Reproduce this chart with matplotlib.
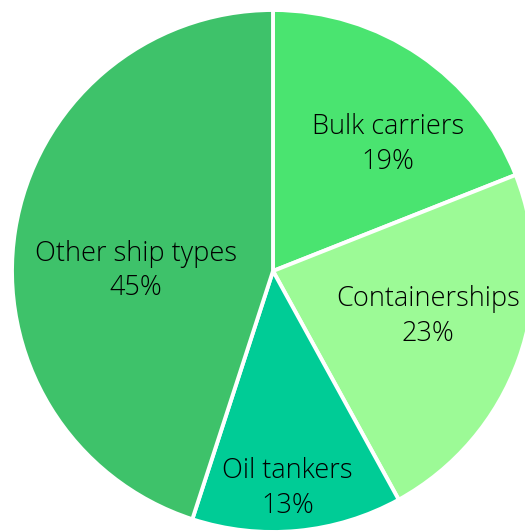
import matplotlib
matplotlib.use('Agg')
import matplotlib.pyplot as plt
import numpy as np

labels = ['Bulk carriers', 'Containerships', 'Oil tankers', 'Other ship types']
shares = [19, 23, 13, 45]
colors = ['#4ae470', '#9cfa96', '#00cc96', '#3ec26a']

# label centres in axes data units (pie radius = 1)
label_pos = [(0.44, 0.485), (0.595, -0.175), (0.055, -0.835), (-0.525, 0.0)]

R = 261.0
W, H = 525, 531
cx, cy = 273, 271

fig = plt.figure(figsize=(W / 100, H / 100), dpi=100)
ax = fig.add_axes([0, 0, 1, 1])
ax.pie(shares, colors=colors, startangle=90, counterclock=False,
       radius=1.0, wedgeprops=dict(edgecolor='white', linewidth=2.8))
ax.set_xlim(-cx / R, (W - cx) / R)
ax.set_ylim(-(H - cy) / R, cy / R)
ax.set_aspect('auto')
ax.axis('off')

for name, val, (x, y) in zip(labels, shares, label_pos):
    ax.text(x, y, f'{name}\n{val}%', ha='center', va='center',
            fontsize=19.5, family='Open Sans', fontweight='light',
            color='#000000', linespacing=1.33)

fig.savefig('out.png', dpi=100)
